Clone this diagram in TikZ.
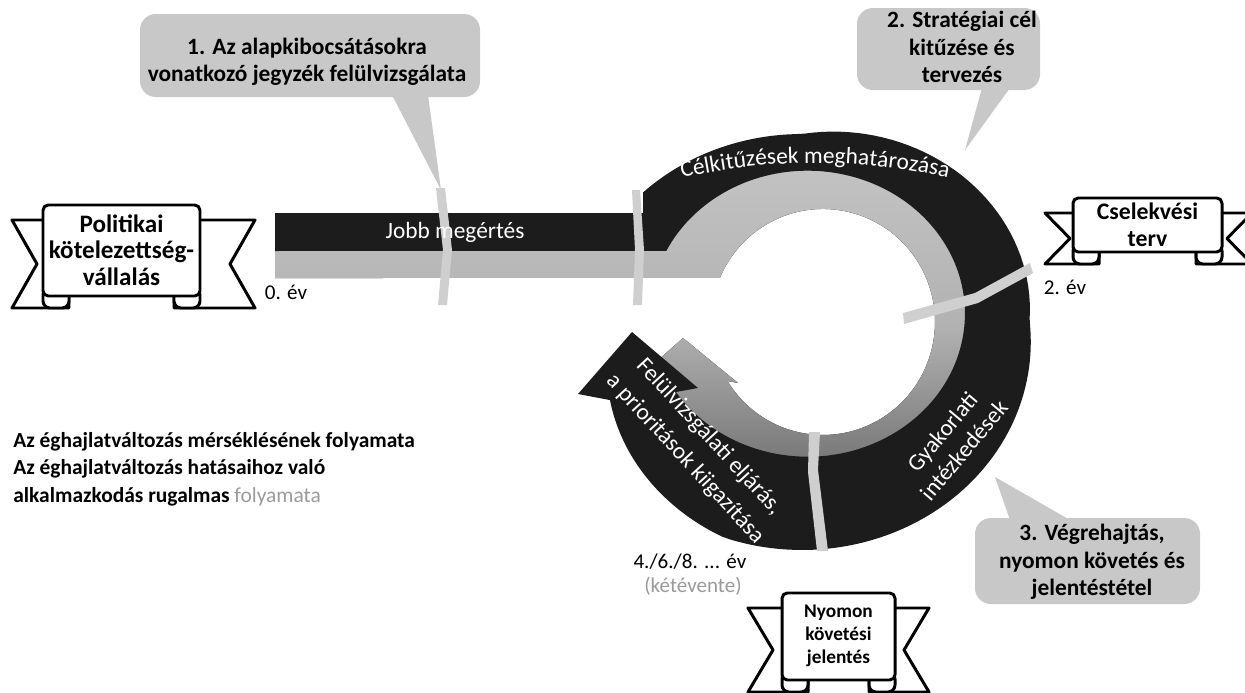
\documentclass[tikz,border=0pt]{standalone}
\usepackage{fontspec}
\setmainfont{Carlito}
\usetikzlibrary{decorations.text}
\definecolor{ringdark}{HTML}{1C1C1C}
\definecolor{bandlight}{HTML}{C6C6C6}
\definecolor{bandmidl}{HTML}{B2B2B2}
\definecolor{bandmid}{HTML}{5E5E5E}
\definecolor{sepgray}{HTML}{CFCFCF}
\definecolor{callgray}{HTML}{C8C8C8}
\definecolor{softgray}{HTML}{9A9A9A}
\newcommand{\ringfont}{\fontsize{13.3}{16}\selectfont}
\tikzset{
  callbox/.style={fill=callgray, rounded corners=9pt},
  calltext/.style={inner sep=0pt, align=center, font=\bfseries\fontsize{13.3}{15.5}\selectfont},
  bannerline/.style={draw=black, fill=white, line width=1.7pt, line join=round},
  bannertext/.style={inner sep=0pt, align=center},
  ringlabel/.style={text=white, font=\ringfont, inner sep=0pt, align=center},
  yearlabel/.style={font=\fontsize{12}{14}\selectfont, inner sep=0pt},
  separator/.style={fill=sepgray},
  lefttext/.style={font=\bfseries\fontsize{12.2}{15}\selectfont, inner sep=0pt, anchor=base west},
}
% ribbon banner: L, T, R, B, left ext, right ext, notch depth
\newcommand{\ribbon}[7]{%
  \filldraw[bannerline] ({#1+10},{#2+15}) -- ({#1-#5},{#2+15}) -- ({#1-#5+#7},{(#2+#4)/2+13.5}) -- ({#1-#5},{#4+12}) -- ({#1+26},{#4+12}) -- ({#1+26},{#4-5}) -- cycle;
  \filldraw[bannerline] ({#3-10},{#2+15}) -- ({#3+#6},{#2+15}) -- ({#3+#6-#7},{(#2+#4)/2+13.5}) -- ({#3+#6},{#4+12}) -- ({#3-26},{#4+12}) -- ({#3-26},{#4-5}) -- cycle;
  \filldraw[bannerline, rounded corners=4pt] (#1,{#4-8}) rectangle ({#1+26},{#4+12});
  \filldraw[bannerline, rounded corners=4pt] ({#3-26},{#4-8}) rectangle (#3,{#4+12});
  \filldraw[bannerline, rounded corners=3pt] (#1,#2) rectangle (#3,#4);
}
\begin{document}
\begin{tikzpicture}[x=0.02cm, y=-0.02cm]
\useasboundingbox (0,0) rectangle (1245,693);

% ---------- light (inner) arrow ----------
\fill[top color=bandlight, bottom color=bandmid, middle color=bandmidl]
  (275,251) -- (641,251)
  arc[start angle=205.85, end angle=515, x radius=190, y radius=172]
  -- (622,392) -- (683,338) -- (738,383) -- (727.5,381)
  arc[start angle=148.5, end angle=-157.1, x radius=112, y radius=113]
  -- (275,278) -- cycle;

% ---------- dark (outer) arrow ----------
\fill[ringdark] (275,213) -- (643,213) -- (643,192)
  -- plot[domain=226:521.6, samples=140, variable=\t]
     ({802+1.1*(208+13*max(0,1-((\t-312)/42)*((\t-312)/42))-max(0,\t-470)*0.465)*cos(\t)},
      {342+(208+13*max(0,1-((\t-312)/42)*((\t-312)/42))-max(0,\t-470)*0.465)*sin(\t)})
  -- (578,394) -- (632,332) -- (698,388) -- (676,392)
  arc[start angle=146.8, end angle=-153.9, x radius=157.3, y radius=143]
  -- (275,251) -- cycle;

% ---------- callouts ----------
\fill[callbox] (140,14) rectangle (480,97);
\fill[callgray] (392,95) -- (428,95) -- (441,190) -- cycle;
\fill[callbox] (857,8) rectangle (1040,90);
\fill[callgray] (982,88) -- (1010,88) -- (965,150) -- cycle;
\fill[callbox] (975,518) rectangle (1200,604);
\fill[callgray] (1010,520) -- (1070,520) -- (995,477) -- cycle;

% ---------- separators ----------
\fill[separator] (436,188) -- (445,188) -- (452,250) -- (447,305) -- (438,305) -- (443,250) -- cycle;
\fill[separator] (632,190) -- (640,190) -- (644,250) -- (642,305) -- (633,305) -- (635,250) -- cycle;
\fill[separator] (903,313) -- (975,293) -- (1030,263) -- (1033,273) -- (978,303) -- (904,324) -- cycle;
\fill[separator] (809,432) -- (820,432) -- (818,470) -- (828,551) -- (817,551) -- (808,472) -- cycle;

% ---------- callout texts ----------
\node[calltext] (c1) at (307,62) {1. Az alapkibocsátásokra\\vonatkozó jegyzék felülvizsgálata};
\node[calltext] (c2) at (962,47) {2. Stratégiai cél\\kitűzése és\\tervezés};
\node[calltext] (c3) at (1092,562) {3. Végrehajtás,\\nyomon követés és\\jelentéstétel};

% ---------- ring labels ----------
\node[ringlabel] (jobb) at (455,232) {Jobb megértés};
\begin{scope}[shift={(815,763)}]
  \path[decorate, decoration={text along path, text={|\ringfont|Célkitűzések meghatározása}, text align=center, text color=white}]
    (245:600) arc[start angle=245, end angle=295, radius=600];
\end{scope}
\node[ringlabel, rotate=50] (gyak) at (953,441) {Gyakorlati\\intézkedések};
\node[ringlabel, rotate=-47.3, font=\fontsize{13.3}{18.5}\selectfont] (felul) at (697,448) {Felülvizsgálati eljárás,\\a prioritások kiigazítása};

% ---------- years ----------
\node[yearlabel] (y0) at (286,292) {0. év};
\node[yearlabel] (y2) at (1065,287) {2. év};
\node[yearlabel] (y4) at (690,562) {4./6./8. ... év};
\node[yearlabel, text=softgray] (y4b) at (693,586) {(kétévente)};

% ---------- left legend ----------
\node[lefttext] (l1) at (13,447) {Az éghajlatváltozás mérséklésének folyamata};
\node[lefttext] (l2) at (13,474.5) {Az éghajlatváltozás hatásaihoz való};
\node[lefttext] (l3) at (13,502) {alkalmazkodás rugalmas \textmd{\textcolor{softgray}{folyamata}}};

% ---------- banners ----------
\ribbon{43}{205}{200}{296}{31}{55}{25}
\node[bannertext, font=\bfseries\fontsize{14.3}{15}\selectfont] (pol) at (121.5,250) {Politikai\\kötelezettség-\\vállalás};
\ribbon{1073}{198}{1222}{252}{28}{30}{25}
\node[bannertext, font=\bfseries\fontsize{13.5}{15.5}\selectfont] (cse) at (1147.5,225) {Cselekvési\\terv};
\ribbon{782}{593}{895}{680}{34}{34}{25}
\node[bannertext, font=\bfseries\fontsize{11}{13}\selectfont] (nyo) at (838.5,636) {Nyomon\\követési\\jelentés};
\end{tikzpicture}
\end{document}
